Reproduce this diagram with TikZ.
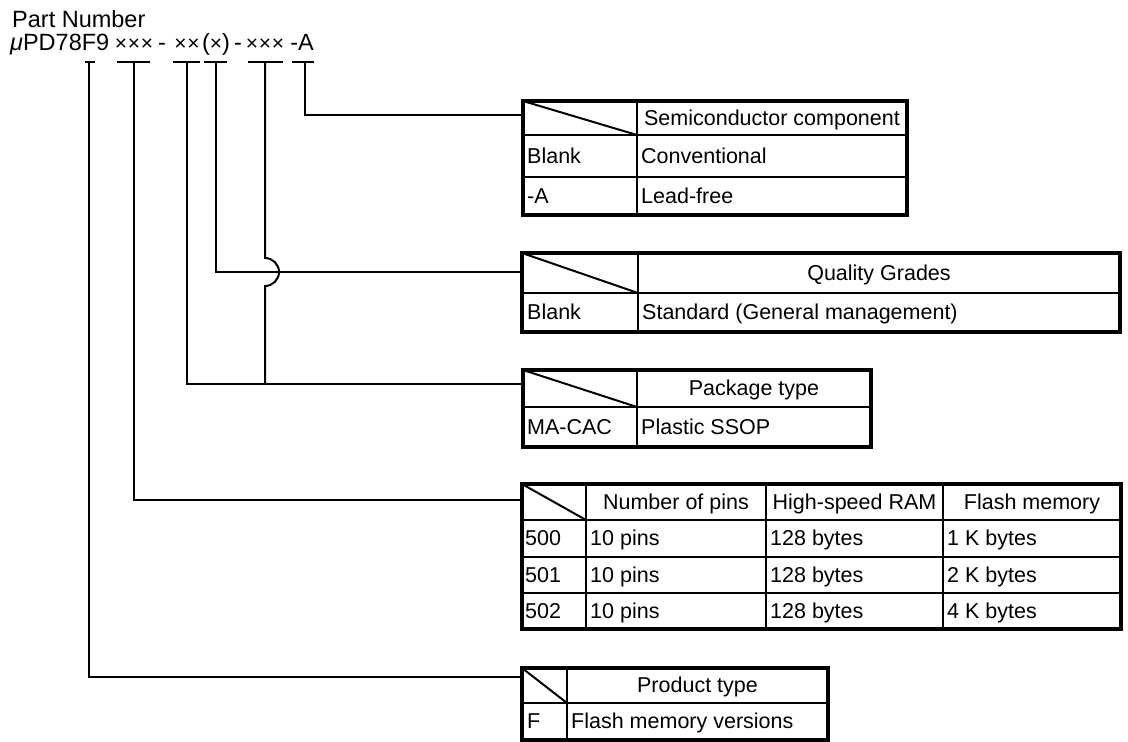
\documentclass[tikz,border=0pt]{standalone}
\usepackage{fontspec}
\setmainfont{Liberation Sans}
\begin{document}
\begin{tikzpicture}[x=1pt,y=-1pt,
  tickline/.style={line width=2pt},
  conn/.style={line width=2pt},
  outer/.style={line width=3.5pt, line join=miter},
  inner/.style={line width=2pt},
  cell/.style={inner sep=0pt, font=\fontsize{21.5}{24}\selectfont},
  hdr/.style={cell, anchor=base},
  lft/.style={cell, anchor=base west},
  big/.style={inner sep=0pt, font=\fontsize{23.5}{26}\selectfont, anchor=base},
  crs/.style={inner sep=0pt, font=\fontsize{21}{22}\selectfont, anchor=base}
]
\useasboundingbox (0,0) rectangle (1128,742);

% ---------- part number ----------
\node[big, anchor=base west] (pn) at (12,27) {Part Number};
\node[big, anchor=base west] (mu) at (10,50) {\textit{μ}PD78F9};
\node[crs] (g1) at (134,50) {×\kern0.8pt×\kern0.8pt×};
\node[big] (d1) at (162,50) {-};
\node[crs] (g2) at (187,50) {×\kern0.8pt×};
\node[big] (g3) at (216,50) {(\fontsize{21}{22}\selectfont×\fontsize{23.5}{26}\selectfont)};
\node[big] (d2) at (238,50) {-};
\node[crs] (g4) at (265,50) {×\kern0.8pt×\kern0.8pt×};
\node[big] (g5) at (302,50) {-A};

% tick marks
\coordinate (t1) at (89,62);
\coordinate (t2) at (134,62);
\coordinate (t3) at (187,62);
\coordinate (t4) at (216,62);
\coordinate (t5) at (265,62);
\coordinate (t6) at (305,62);
\draw[tickline] (85,62) -- (95,62);
\draw[tickline] (117,62) -- (150,62);
\draw[tickline] (173,62) -- (200,62);
\draw[tickline] (204,62) -- (227,62);
\draw[tickline] (248,62) -- (283,62);
\draw[tickline] (292,62) -- (314,62);

% ---------- table: semiconductor component ----------
\coordinate (semiL) at (523,115);
\draw[inner] (523,101) -- (637,135);
\draw[inner] (637,101) -- (637,215);
\draw[inner] (523,135) -- (907,135);
\draw[inner] (523,177) -- (907,177);
\draw[outer] (523,101) rectangle (907,215);
\node[hdr] (sh) at (772,125) {Semiconductor component};
\node[lft] (s1a) at (527,163) {Blank};
\node[lft] (s1b) at (641,163) {Conventional};
\node[lft] (s2a) at (527,203) {-A};
\node[lft] (s2b) at (641,203) {Lead-free};

% ---------- table: quality grades ----------
\coordinate (qualL) at (522,272);
\draw[inner] (522,253) -- (638,293);
\draw[inner] (638,253) -- (638,332);
\draw[inner] (522,293) -- (1120,293);
\draw[outer] (522,253) rectangle (1120,332);
\node[hdr] (qh) at (879,280) {Quality Grades};
\node[lft] (q1a) at (527,319.5) {Blank};
\node[lft] (q1b) at (642,319.5) {Standard (General management)};

% ---------- table: package type ----------
\coordinate (pkgL) at (523,384);
\draw[inner] (523,370) -- (637,407);
\draw[inner] (637,370) -- (637,447);
\draw[inner] (523,407) -- (871,407);
\draw[outer] (523,370) rectangle (871,447);
\node[hdr] (ph) at (754,395.5) {Package type};
\node[lft] (p1a) at (527,434) {MA-CAC};
\node[lft] (p1b) at (641,434) {Plastic SSOP};

% ---------- table: pins / RAM / flash ----------
\coordinate (pinsL) at (522,500);
\draw[inner] (522,484) -- (586,520);
\foreach \xx in {586,766,943} \draw[inner] (\xx,484) -- (\xx,629);
\foreach \yy in {520,557,593} \draw[inner] (522,\yy) -- (1121,\yy);
\draw[outer] (522,484) rectangle (1121,629);
\node[hdr] (nh1) at (676,509) {Number of pins};
\node[hdr] (nh2) at (854.5,509) {High-speed RAM};
\node[hdr] (nh3) at (1032,509) {Flash memory};
\node[lft] (n1a) at (525,545.5) {500};
\node[lft] (n1b) at (590,545.5) {10 pins};
\node[lft] (n1c) at (770,545.5) {128 bytes};
\node[lft] (n1d) at (947,545.5) {1 K bytes};
\node[lft] (n2a) at (525,582) {501};
\node[lft] (n2b) at (590,582) {10 pins};
\node[lft] (n2c) at (770,582) {128 bytes};
\node[lft] (n2d) at (947,582) {2 K bytes};
\node[lft] (n3a) at (525,618) {502};
\node[lft] (n3b) at (590,618) {10 pins};
\node[lft] (n3c) at (770,618) {128 bytes};
\node[lft] (n3d) at (947,618) {4 K bytes};

% ---------- table: product type ----------
\coordinate (prodL) at (522,677);
\draw[inner] (522,668) -- (567,703);
\draw[inner] (567,668) -- (567,740);
\draw[inner] (522,703) -- (828,703);
\draw[outer] (522,668) rectangle (828,740);
\node[hdr] (rh) at (697.5,692.5) {Product type};
\node[lft] (r1a) at (527,728.5) {F};
\node[lft] (r1b) at (571,728.5) {Flash memory versions};

% ---------- connectors ----------
\draw[conn] (t1) |- (prodL);
\draw[conn] (t2) |- (pinsL);
\draw[conn] (t3) |- (pkgL);
\draw[conn] (t4) |- (qualL);
\coordinate (jtop) at (265,258);
\draw[conn] (t5) -- (jtop) arc (-90:90:14) -- (t5 |- pkgL);
\draw[conn] (t6) |- (semiL);
\end{tikzpicture}
\end{document}
